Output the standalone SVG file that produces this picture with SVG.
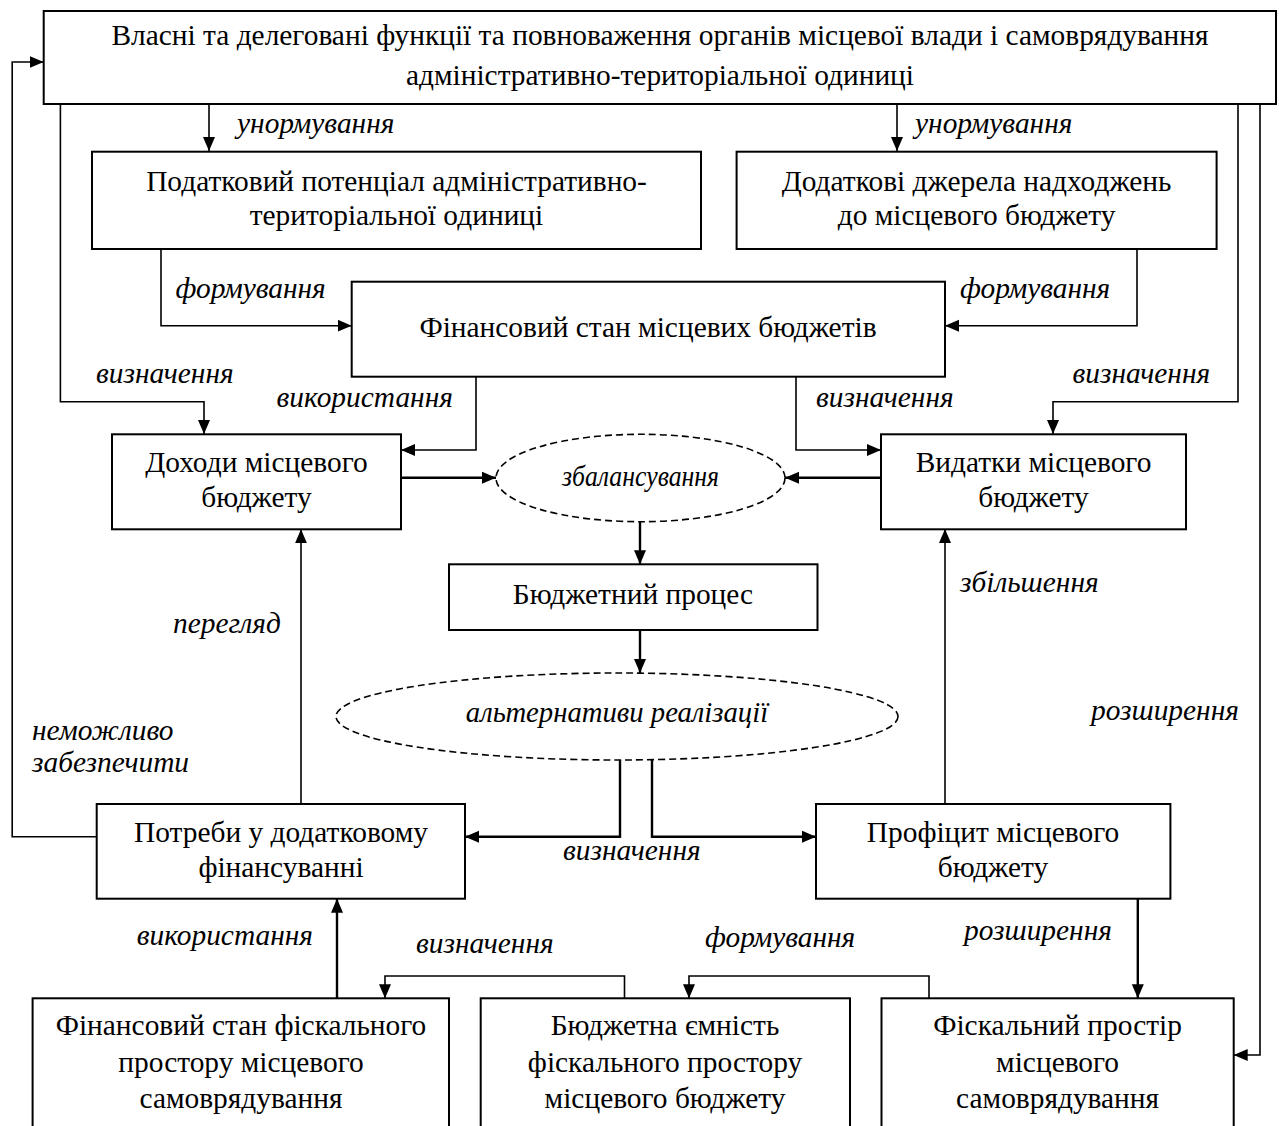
<svg xmlns="http://www.w3.org/2000/svg" width="1279" height="1126" viewBox="0 0 1279 1126">
  <style>
    .box { fill: #fff; stroke: #000; stroke-width: 2; }
    .oval { fill: #fff; stroke: #000; stroke-width: 1.6; stroke-dasharray: 7 4; }
    .t { font-family: "Liberation Serif", "Times New Roman", serif; font-size: 29.4px; fill: #000; text-anchor: middle; }
    .lbl { font-family: "Liberation Serif", "Times New Roman", serif; font-size: 29.4px; font-style: italic; fill: #000; }
    .ci { text-anchor: middle; }
    .c { fill: none; stroke: #000; stroke-width: 1.6; marker-end: url(#ah); }
    .ct { fill: none; stroke: #000; stroke-width: 2.4; marker-end: url(#ah); }
  </style>
  <defs>
    <marker id="ah" markerUnits="userSpaceOnUse" markerWidth="15" markerHeight="13" refX="14" refY="6" orient="auto">
      <path d="M0,0 L14,6 L0,12 z" fill="#000"/>
    </marker>
  </defs>
  <rect width="1279" height="1126" fill="#fff"/>

  <!-- connectors -->
  <g id="connectors">
    <path class="c" d="M209,104 V151"/>
    <path class="c" d="M897,104 V151"/>
    <path class="c" d="M161,249 V325.7 H351.7"/>
    <path class="c" d="M1137,249 V325.7 H945"/>
    <path class="c" d="M60.4,104 V401.7 H204 V434"/>
    <path class="c" d="M1238,104 V401.7 H1053 V434"/>
    <path class="c" d="M1260,104 V1055 H1233.7"/>
    <path class="c" d="M476,376.7 V450 H401"/>
    <path class="c" d="M796,376.7 V450 H881"/>
    <path class="ct" d="M401,477.7 H496"/>
    <path class="ct" d="M881,477.7 H785"/>
    <path class="ct" d="M640,521.7 V564.3"/>
    <path class="ct" d="M640,630 V673"/>
    <path class="ct" d="M620,760 V836.7 H465"/>
    <path class="ct" d="M652,759.5 V836.7 H816"/>
    <path class="c" d="M301,804 V529.3"/>
    <path class="c" d="M96.7,836.7 H12.2 V62 H43.7"/>
    <path class="c" d="M945,804 V529"/>
    <path class="ct" d="M1137.8,898.7 V998.3"/>
    <path class="ct" d="M337,998.3 V898.7"/>
    <path class="c" d="M624.5,998.3 V976 H385 V998.3"/>
    <path class="c" d="M929,998.3 V976 H689 V998.3"/>
  </g>

  <!-- nodes -->
  <g id="powers">
    <rect class="box" x="43.7" y="11" width="1232.3" height="93"/>
    <text class="t" x="660" y="45">Власні та делеговані функції та повноваження органів місцевої влади і самоврядування</text>
    <text class="t" x="660" y="85">адміністративно-територіальної одиниці</text>
  </g>
  <g id="tax-potential">
    <rect class="box" x="92" y="151.7" width="609" height="97.3"/>
    <text class="t" x="396.5" y="191">Податковий потенціал адміністративно-</text>
    <text class="t" x="396.5" y="225">територіальної одиниці</text>
  </g>
  <g id="extra-sources">
    <rect class="box" x="736.6" y="151.7" width="480" height="97.3"/>
    <text class="t" x="976.6" y="191">Додаткові джерела надходжень</text>
    <text class="t" x="976.6" y="225">до місцевого бюджету</text>
  </g>
  <g id="fin-state">
    <rect class="box" x="351.7" y="281.7" width="593.3" height="95"/>
    <text class="t" x="648" y="337">Фінансовий стан місцевих бюджетів</text>
  </g>
  <g id="revenues">
    <rect class="box" x="112" y="434.3" width="289" height="95"/>
    <text class="t" x="256.5" y="472">Доходи місцевого</text>
    <text class="t" x="256.5" y="507">бюджету</text>
  </g>
  <g id="expenditures">
    <rect class="box" x="881" y="434.3" width="305" height="95"/>
    <text class="t" x="1033.5" y="472">Видатки місцевого</text>
    <text class="t" x="1033.5" y="507">бюджету</text>
  </g>
  <g id="balancing">
    <ellipse class="oval" cx="640.5" cy="478" rx="144.5" ry="43.7"/>
    <text class="lbl ci" x="640.5" y="486" textLength="157" lengthAdjust="spacingAndGlyphs">збалансування</text>
  </g>
  <g id="budget-process">
    <rect class="box" x="449" y="564.3" width="368.5" height="65.7"/>
    <text class="t" x="633" y="604">Бюджетний процес</text>
  </g>
  <g id="alternatives">
    <ellipse class="oval" cx="617" cy="716.5" rx="281" ry="43.5"/>
    <text class="lbl ci" x="617" y="722" style="font-size:28.7px">альтернативи реалізації</text>
  </g>
  <g id="needs">
    <rect class="box" x="96.7" y="804" width="368.3" height="94.7"/>
    <text class="t" x="281" y="842">Потреби у додатковому</text>
    <text class="t" x="281" y="877">фінансуванні</text>
  </g>
  <g id="surplus">
    <rect class="box" x="816" y="804" width="354.4" height="94.7"/>
    <text class="t" x="993" y="842">Профіцит місцевого</text>
    <text class="t" x="993" y="877">бюджету</text>
  </g>
  <g id="fiscal-fin-state">
    <rect class="box" x="32.6" y="998.3" width="416.4" height="132"/>
    <text class="t" x="241" y="1035">Фінансовий стан фіскального</text>
    <text class="t" x="241" y="1071.5">простору місцевого</text>
    <text class="t" x="241" y="1108">самоврядування</text>
  </g>
  <g id="budget-capacity">
    <rect class="box" x="480.7" y="998.3" width="369.3" height="132"/>
    <text class="t" x="665" y="1035">Бюджетна ємність</text>
    <text class="t" x="665" y="1071.5">фіскального простору</text>
    <text class="t" x="665" y="1108">місцевого бюджету</text>
  </g>
  <g id="fiscal-space">
    <rect class="box" x="881.5" y="998.3" width="352.2" height="132"/>
    <text class="t" x="1057.6" y="1035">Фіскальний простір</text>
    <text class="t" x="1057.6" y="1071.5">місцевого</text>
    <text class="t" x="1057.6" y="1108">самоврядування</text>
  </g>

  <!-- connector labels -->
  <g id="labels">
    <text class="lbl" x="237" y="133">унормування</text>
    <text class="lbl" x="915" y="133">унормування</text>
    <text class="lbl" x="175.5" y="298">формування</text>
    <text class="lbl" x="960" y="298">формування</text>
    <text class="lbl" x="96" y="383">визначення</text>
    <text class="lbl" x="276.6" y="407">використання</text>
    <text class="lbl" x="816" y="407">визначення</text>
    <text class="lbl" x="1072.5" y="383">визначення</text>
    <text class="lbl" x="173" y="633">перегляд</text>
    <text class="lbl" x="960" y="591.7">збільшення</text>
    <text class="lbl" x="32" y="740">неможливо</text>
    <text class="lbl" x="32" y="771.7">забезпечити</text>
    <text class="lbl" x="1091" y="720">розширення</text>
    <text class="lbl" x="563" y="860">визначення</text>
    <text class="lbl" x="136.7" y="945">використання</text>
    <text class="lbl" x="416" y="953">визначення</text>
    <text class="lbl" x="705" y="946.7">формування</text>
    <text class="lbl" x="964" y="940">розширення</text>
  </g>
</svg>
